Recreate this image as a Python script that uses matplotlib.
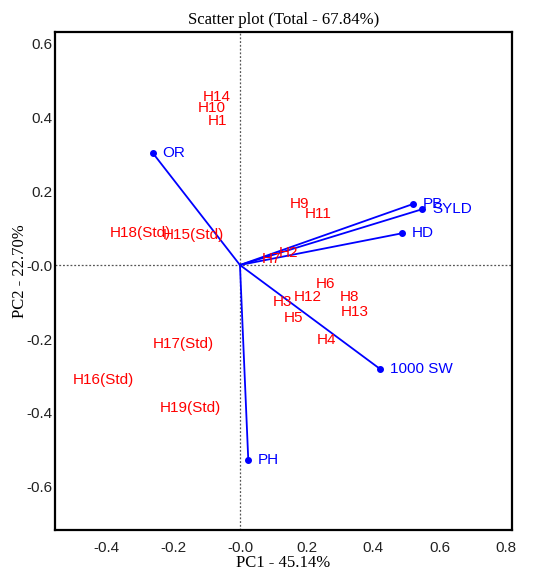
import matplotlib
matplotlib.use("Agg")
import matplotlib.pyplot as plt

# genotype scores (PC1, PC2)
geno_names = ["H14", "H10", "H1", "H9", "H11", "H18(Std)", "H15(Std)", "H7", "H2",
              "H6", "H12", "H8", "H3", "H13", "H5", "H4", "H17(Std)", "H16(Std)", "H19(Std)"]
geno_pc1 = [-0.069, -0.084, -0.066, 0.180, 0.235, -0.300, -0.140, 0.096, 0.145,
            0.256, 0.205, 0.328, 0.128, 0.344, 0.162, 0.260, -0.170, -0.410, -0.150]
geno_pc2 = [0.454, 0.424, 0.390, 0.165, 0.137, 0.087, 0.081, 0.016, 0.032,
            -0.051, -0.087, -0.087, -0.100, -0.128, -0.144, -0.203, -0.213, -0.310, -0.387]

# trait loadings (PC1, PC2)
trait_names = ["OR", "PB", "SYLD", "HD", "1000 SW", "PH"]
trait_pc1 = [-0.262, 0.520, 0.548, 0.488, 0.421, 0.025]
trait_pc2 = [0.303, 0.165, 0.151, 0.086, -0.281, -0.527]

x_ticks = [-0.4, -0.2, 0.0, 0.2, 0.4, 0.6, 0.8]
x_tick_labels = ["-0.4", "-0.2", "-0.0", "0.2", "0.4", "0.6", "0.8"]
y_ticks = [-0.6, -0.4, -0.2, 0.0, 0.2, 0.4, 0.6]
y_tick_labels = ["-0.6", "-0.4", "-0.2", "-0.0", "0.2", "0.4", "0.6"]

plt.rcParams['font.family'] = ['Liberation Sans', 'DejaVu Sans']

fig = plt.figure(figsize=(5.33, 5.71), dpi=100)
ax = fig.add_axes([0.103, 0.072, 0.858, 0.872])

ax.axvline(0, color="#555555", linestyle=(0, (1.5, 1.5)), linewidth=0.9, zorder=1)
ax.axhline(0, color="#555555", linestyle=(0, (1.5, 1.5)), linewidth=0.9, zorder=1)

# trait vectors
for name, x, y in zip(trait_names, trait_pc1, trait_pc2):
    ax.plot([0, x], [0, y], color="blue", linewidth=1.3, zorder=2)
    ax.plot(x, y, "o", color="blue", markersize=4, zorder=3)
    ax.annotate(name, (x, y), xytext=(7, 0), textcoords="offset points",
                ha="left", va="center", color="blue", fontsize=11, zorder=4)

# genotype labels
for name, x, y in zip(geno_names, geno_pc1, geno_pc2):
    ax.text(x, y, name, ha="center", va="center", color="red", fontsize=11, zorder=4)

ax.set_xlim(-0.556, 0.818)
ax.set_ylim(-0.716, 0.63)
ax.set_xticks(x_ticks)
ax.set_xticklabels(x_tick_labels)
ax.set_yticks(y_ticks)
ax.set_yticklabels(y_tick_labels)
ax.tick_params(length=0, labelsize=11, colors="#222222")
ax.tick_params(axis="x", pad=8)
ax.tick_params(axis="y", pad=2)

for s in ax.spines.values():
    s.set_linewidth(1.6)

ax.set_title("Scatter plot (Total - 67.84%)", fontfamily="Liberation Serif", fontsize=12, pad=6)
ax.set_xlabel("PC1 - 45.14%", fontfamily="Liberation Serif", fontsize=12, labelpad=0)
ax.set_ylabel("PC2 - 22.70%", fontfamily="Liberation Serif", fontsize=12)
ax.yaxis.set_label_coords(-0.058, 0.52)

fig.savefig("out.png", dpi=100)
